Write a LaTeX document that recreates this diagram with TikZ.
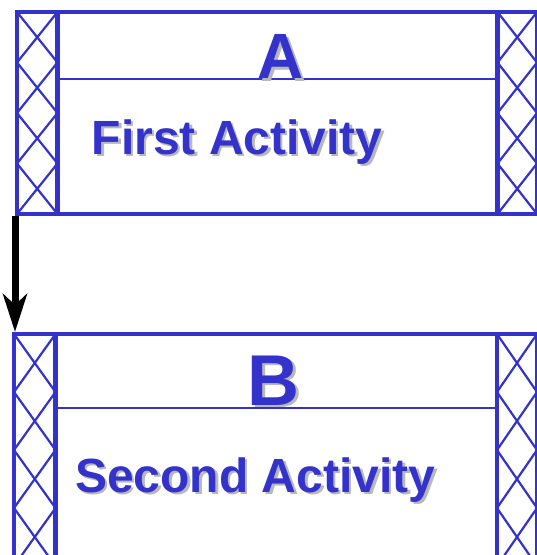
\documentclass[tikz,border=0pt]{standalone}
\usepackage{fontspec}
\setmainfont{Liberation Sans}
\usepackage{tikz}
\usetikzlibrary{arrows.meta,positioning,calc}
\definecolor{ActBlue}{HTML}{3333CC}
\definecolor{ShadowGray}{HTML}{B8B8B8}

% one column of crossed cells between x=#1 and x=#3, from y=#2 to y=#4
\newcommand{\hatchcol}[5]{%
  \foreach \k in {1,...,#5}{%
    \pgfmathsetmacro{\ya}{#2+(\k-1)*(#4-#2)/#5}%
    \pgfmathsetmacro{\yb}{#2+\k*(#4-#2)/#5}%
    \draw[hatchline] (#1,\ya) -- (#3,\yb) (#3,\ya) -- (#1,\yb);
  }}
% text with a grey drop shadow behind it
\newcommand{\shadowed}[1]{%
  \rlap{\kern2.5pt\raisebox{-2.5pt}{\textcolor{ShadowGray}{#1}}}\textcolor{ActBlue}{#1}}

\begin{document}
\begin{tikzpicture}[x=1pt,y=-1pt,
    actbox/.style={draw=ActBlue,line width=4pt,inner sep=0pt},
    stripline/.style={ActBlue,line width=4.5pt},
    hatchline/.style={ActBlue,line width=2.2pt},
    headline/.style={ActBlue,line width=2pt},
    acttext/.style={font=\bfseries\fontsize{48}{48}\selectfont,inner sep=0pt,anchor=base west},
    tagtext/.style={font=\bfseries\fontsize{#1}{#1}\selectfont,inner sep=0pt,anchor=base},
    flow/.style={-{Stealth[length=38pt,width=24pt,inset=11pt]},line width=7pt,black}]
  \useasboundingbox (0,0) rectangle (537,555);
  \clip (0,0) rectangle (537,555);

  % Hatched side columns of both activities.
  \hatchcol{17}{12}{57.5}{214}{4}
  \hatchcol{497.5}{12}{537}{214}{4}
  \hatchcol{14}{334}{55.5}{624}{5}
  \hatchcol{497}{334}{537}{624}{5}

  % Activity A
  \node[actbox,minimum width=520pt,minimum height=202pt] (boxA) at (277,113) {};
  \draw[stripline] (57.5,12) -- (57.5,214);
  \draw[stripline] (497.5,12) -- (497.5,214);
  \draw[headline] (57.5,78.5) -- (497.5,78.5);
  \node[tagtext=64] (tagA) at (281,78.5) {\shadowed{A}};
  \node[acttext] (actA) at (91.5,154) {\shadowed{First Activity}};

  % Activity B
  \node[actbox,minimum width=523pt,minimum height=290pt] (boxB) at (275.5,479) {};
  \draw[stripline] (55.5,334) -- (55.5,624);
  \draw[stripline] (497,334) -- (497,624);
  \draw[headline] (55.5,408) -- (497,408);
  \node[tagtext=72] (tagB) at (273.5,405) {\shadowed{B}};
  \node[acttext] (actB) at (75,492) {\shadowed{Second Activity}};

  % Sequence flow from A to B.
  \draw[flow] (boxA.south west) -- (boxA.south west |- boxB.north);
\end{tikzpicture}
\end{document}
